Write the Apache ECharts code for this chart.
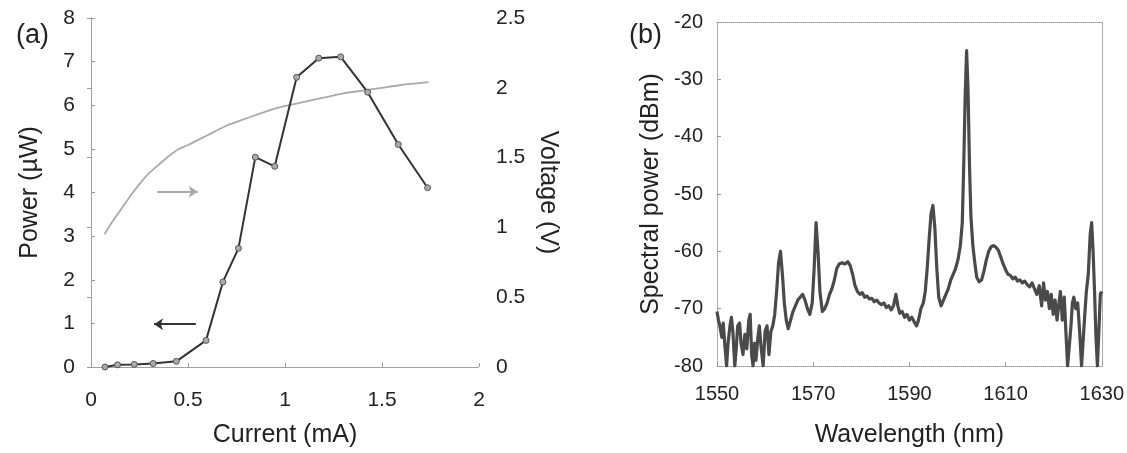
<!DOCTYPE html>
<html>
<head>
<meta charset="utf-8">
<script src="https://cdn.jsdelivr.net/npm/echarts@6/dist/echarts.min.js"></script>
<style>
    html, body { margin: 0; padding: 0; background: #fff; }
    #main { width: 1127px; height: 453px; }
</style>
</head>
<body>
<div id="main"></div>
<script>
// (a) L-I curve, power markers
var currentMa = [0.072, 0.137, 0.223, 0.32, 0.44, 0.593, 0.68, 0.76, 0.847, 0.947, 1.06, 1.174, 1.287, 1.426, 1.584, 1.735];
var powerUw = [0.0, 0.05, 0.06, 0.08, 0.13, 0.61, 1.95, 2.72, 4.81, 4.6, 6.64, 7.08, 7.11, 6.3, 5.1, 4.11];

// (a) I-V curve
var voltCurrent = [0.07, 0.1, 0.15, 0.2, 0.25, 0.3, 0.35, 0.4, 0.45, 0.5, 0.6, 0.7, 0.8, 0.9, 1.0, 1.1, 1.2, 1.3, 1.4, 1.5, 1.6, 1.74];
var voltageV = [0.95, 1.02, 1.12, 1.22, 1.31, 1.39, 1.45, 1.51, 1.56, 1.59, 1.66, 1.73, 1.78, 1.83, 1.87, 1.9, 1.93, 1.96, 1.98, 2.0, 2.02, 2.04];

// (b) optical spectrum
var wavelengthNm = [
    1550.0, 1550.3, 1550.6, 1551.0, 1551.3, 1551.6, 1552.0, 1552.3, 1552.7, 1553.0,
    1553.3, 1553.7, 1554.0, 1554.3, 1554.7, 1555.0, 1555.4, 1555.8, 1556.2, 1556.6,
    1556.9, 1557.2, 1557.5, 1557.8, 1558.1, 1558.5, 1558.8, 1559.2, 1559.6, 1560.0,
    1560.4, 1560.8, 1561.2, 1561.6, 1562.0, 1562.4, 1562.8, 1563.2, 1563.6, 1564.0,
    1564.4, 1564.8, 1565.3, 1565.8, 1566.3, 1566.8, 1567.3, 1567.8, 1568.3, 1568.8,
    1569.3, 1569.8, 1570.2, 1570.6, 1571.0, 1571.4, 1571.9, 1572.4, 1572.9, 1573.4,
    1573.9, 1574.4, 1574.9, 1575.4, 1576.0, 1576.6, 1577.2, 1577.7, 1578.2, 1578.7,
    1579.2, 1579.7, 1580.2, 1580.7, 1581.2, 1581.7, 1582.2, 1582.7, 1583.2, 1583.7,
    1584.2, 1584.7, 1585.2, 1585.7, 1586.2, 1586.7, 1587.2, 1587.6, 1588.0, 1588.5,
    1589.0, 1589.5, 1590.0, 1590.5, 1591.0, 1591.5, 1591.9, 1592.4, 1592.9, 1593.3,
    1593.7, 1594.1, 1594.5, 1594.9, 1595.3, 1595.7, 1596.1, 1596.6, 1597.1, 1597.6,
    1598.1, 1598.6, 1599.1, 1599.6, 1600.1, 1600.6, 1601.0, 1601.3, 1601.6, 1601.9,
    1602.2, 1602.5, 1602.8, 1603.2, 1603.6, 1604.0, 1604.5, 1605.0, 1605.5, 1606.0,
    1606.5, 1607.0, 1607.5, 1608.0, 1608.5, 1609.0, 1609.5, 1610.0, 1610.5, 1611.0,
    1611.5, 1612.0, 1612.5, 1613.0, 1613.5, 1614.0, 1614.5, 1615.0, 1615.5, 1616.0,
    1616.5, 1617.0, 1617.5, 1617.9, 1618.3, 1618.7, 1619.1, 1619.5, 1619.9, 1620.3,
    1620.7, 1621.1, 1621.4, 1621.8, 1622.2, 1622.6, 1622.9, 1623.3, 1623.6, 1623.9,
    1624.2, 1624.6, 1625.0, 1625.4, 1625.8, 1626.1, 1626.4, 1626.8, 1627.2, 1627.6,
    1627.9, 1628.2, 1628.5, 1628.8, 1629.1, 1629.4, 1629.7, 1630.0
];
var spectralDbm = [
    -70.5, -72, -73, -75, -72.5, -76, -80, -76, -73, -71.5,
    -74, -80, -77, -73, -72.5, -76, -78, -74.5, -77, -72,
    -71, -78, -80, -76, -79, -75, -73, -77, -80, -74,
    -73, -78, -74, -73, -71, -67, -62, -60, -64, -69,
    -72, -73.5, -72, -70.5, -69.5, -68.5, -68, -67.5, -68.5, -70,
    -71, -69, -63, -55, -60, -67, -70.5, -70, -69, -67.5,
    -66.5, -65, -63, -62.2, -62, -62.2, -61.8, -62.5, -64, -66,
    -67, -67.5, -67.2, -68, -67.8, -68.3, -68.2, -68.8, -68.5, -69,
    -69.3, -69, -69.8, -69.5, -70.2, -69.5, -67.5, -69.5, -70.8, -70.5,
    -71.5, -71, -72, -71.5, -72.3, -73, -72, -70, -69, -67,
    -63, -58, -53.5, -52, -56, -63, -68, -69.5, -68.5, -67.5,
    -66.5, -65, -64, -63, -61.5, -59, -55, -45, -33, -25,
    -32, -45, -54, -59, -62, -64.5, -65.3, -65, -63.5, -61.5,
    -60, -59.2, -59, -59.3, -59.8, -61, -62.2, -63.2, -64, -64.2,
    -64.8, -64.5, -65.2, -65, -65.5, -65.2, -65.8, -66.2, -65.5, -66.5,
    -67.5, -66, -69.5, -65.5, -68.5, -67, -70, -67.5, -71, -68.5,
    -72, -69, -67, -72, -68, -75, -80, -80, -73, -69,
    -68, -70, -69, -74, -80, -80, -72, -67, -64, -57,
    -55, -60, -67, -75, -80, -74, -67.5, -67
];
var wavelengthTicks = [1550, 1570, 1590, 1610, 1630];

function pairs(xs, ys) {
    var out = [];
    for (var i = 0; i < xs.length; i++) out.push([xs[i], ys[i]]);
    return out;
}

var FONT = 'Liberation Sans, Arial, sans-serif';
var TXT = '#222';
var boxLine = { show: true, lineStyle: { color: '#999', type: 'dotted', width: 1 } };
var inTick = { show: true, inside: true, length: 4, lineStyle: { color: '#999' } };
var noTick = { show: false };
var lbl = function(size, margin) {
    return { color: TXT, fontFamily: FONT, fontSize: size, margin: margin };
};
var nameStyle = { color: TXT, fontFamily: FONT, fontSize: 25 };

var chart = echarts.init(document.getElementById('main'), null, { renderer: 'canvas' });

var option = {
    animation: false,
    backgroundColor: '#fff',
    title: [
        { text: '(a)', left: 11, top: 17, textStyle: { color: TXT, fontFamily: FONT, fontSize: 27, fontWeight: 'normal' } },
        { text: '(b)', left: 624, top: 17, textStyle: { color: TXT, fontFamily: FONT, fontSize: 27, fontWeight: 'normal' } }
    ],
    grid: [
        { left: 91, top: 18, width: 388, height: 350 },
        { left: 717, top: 22, width: 386, height: 348 }
    ],
    xAxis: [
        {
            gridIndex: 0, type: 'value', min: 0, max: 2, interval: 0.5,
            name: 'Current (mA)', nameLocation: 'middle', nameGap: 56, nameTextStyle: nameStyle,
            axisLine: boxLine, axisTick: inTick, axisLabel: lbl(21, 23), splitLine: { show: false }
        },
        {
            gridIndex: 0, type: 'value', position: 'top', min: 0, max: 2,
            axisLine: boxLine, axisTick: noTick, axisLabel: { show: false }, splitLine: { show: false }
        },
        {
            gridIndex: 1, type: 'value', min: 1550, max: 1630,
            name: 'Wavelength (nm)', nameLocation: 'middle', nameGap: 57, nameTextStyle: nameStyle,
            axisLine: boxLine,
            axisTick: Object.assign({ customValues: wavelengthTicks }, inTick),
            axisLabel: Object.assign({
                customValues: wavelengthTicks,
                formatter: function(v) { return String(v); }
            }, lbl(20, 18)),
            splitLine: { show: false }
        },
        {
            gridIndex: 1, type: 'value', position: 'top', min: 1550, max: 1630,
            axisLine: boxLine, axisTick: noTick, axisLabel: { show: false }, splitLine: { show: false }
        }
    ],
    yAxis: [
        {
            gridIndex: 0, type: 'value', min: 0, max: 8, interval: 1,
            name: 'Power (\u00b5W)', nameLocation: 'middle', nameGap: 48, nameTextStyle: nameStyle,
            axisLine: boxLine, axisTick: inTick, axisLabel: lbl(21, 16), splitLine: { show: false }
        },
        {
            gridIndex: 0, type: 'value', position: 'right', min: 0, max: 2.5, interval: 0.5,
            name: 'Voltage (V)', nameLocation: 'middle', nameRotate: -90, nameGap: 56, nameTextStyle: nameStyle,
            axisLine: boxLine, axisTick: inTick, axisLabel: lbl(21, 17), splitLine: { show: false }
        },
        {
            gridIndex: 1, type: 'value', min: -80, max: -20, interval: 10,
            name: 'Spectral power (dBm)', nameLocation: 'middle', nameGap: 53, nameTextStyle: nameStyle,
            axisLine: boxLine, axisTick: inTick, axisLabel: lbl(20, 14), splitLine: { show: false }
        },
        {
            gridIndex: 1, type: 'value', position: 'right', min: -80, max: -20,
            axisLine: boxLine, axisTick: noTick, axisLabel: { show: false }, splitLine: { show: false }
        }
    ],
    series: [
        {
            name: 'Voltage', type: 'line', xAxisIndex: 0, yAxisIndex: 1,
            data: pairs(voltCurrent, voltageV),
            showSymbol: false, smooth: 0.2,
            lineStyle: { color: '#aaa', width: 1.8 },
            z: 2
        },
        {
            name: 'Power', type: 'line', xAxisIndex: 0, yAxisIndex: 0,
            data: pairs(currentMa, powerUw),
            symbol: 'circle', symbolSize: 6,
            itemStyle: { color: '#aaa', borderColor: '#555', borderWidth: 1 },
            lineStyle: { color: '#333', width: 2 },
            markLine: {
                silent: true,
                symbol: ['none', 'arrow'],
                symbolSize: [9, 9],
                label: { show: false },
                data: [
                    [
                        { coord: [0.34, 4.02], lineStyle: { color: '#aaa', width: 2, type: 'solid' } },
                        { coord: [0.55, 4.02] }
                    ],
                    [
                        { coord: [0.54, 0.98], lineStyle: { color: '#333', width: 2, type: 'solid' } },
                        { coord: [0.325, 0.98] }
                    ]
                ]
            },
            z: 3
        },
        {
            name: 'Spectrum', type: 'line', xAxisIndex: 2, yAxisIndex: 2,
            data: pairs(wavelengthNm, spectralDbm),
            showSymbol: false,
            lineStyle: { color: '#4a4a4a', width: 3.2, join: 'round' }
        }
    ]
};

chart.setOption(option);
</script>
</body>
</html>
